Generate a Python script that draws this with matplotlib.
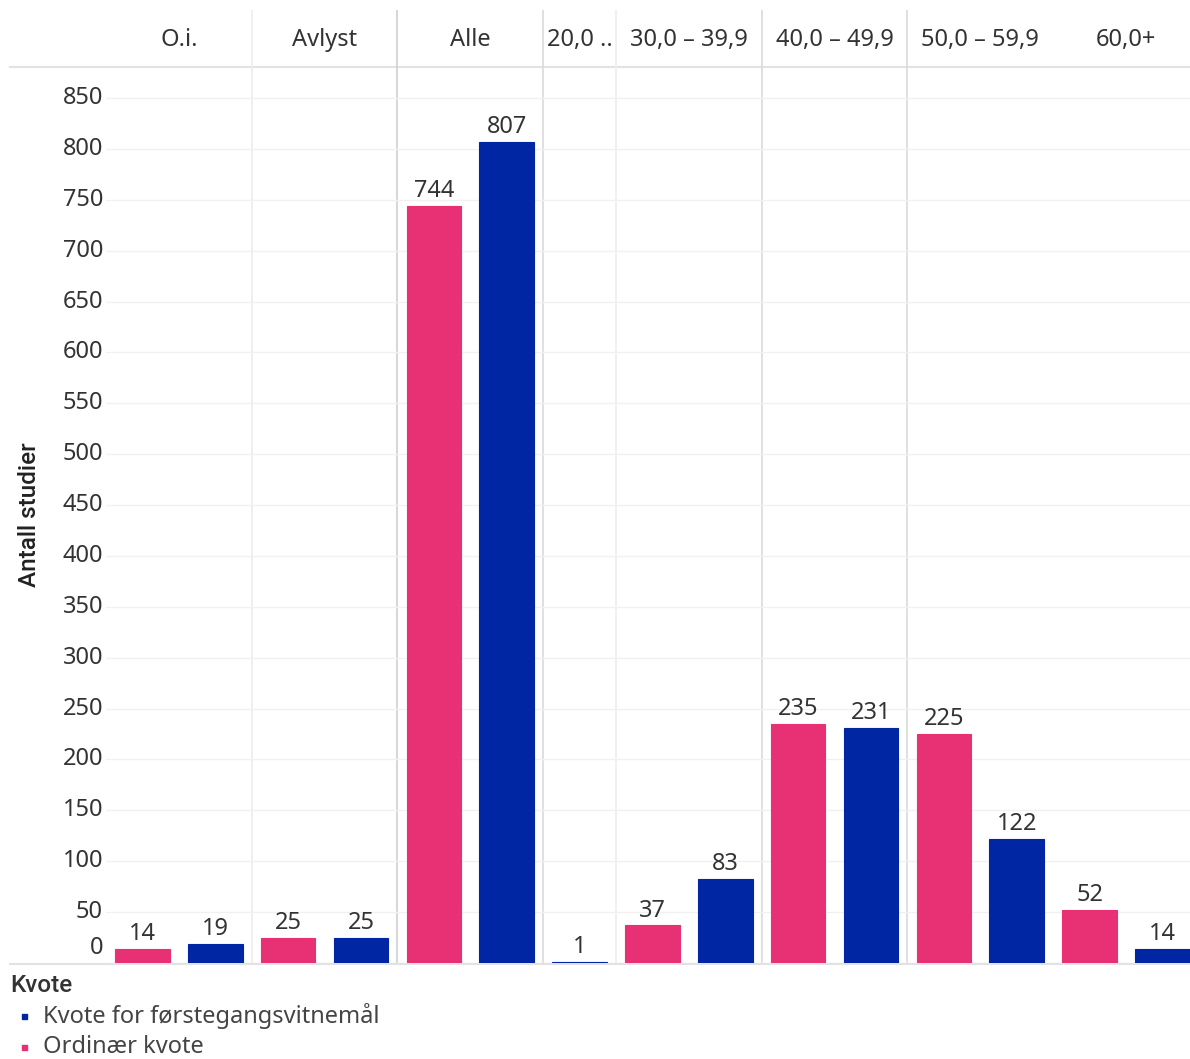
import matplotlib
matplotlib.use('Agg')
import matplotlib.pyplot as plt
from matplotlib.lines import Line2D
from matplotlib.patches import Rectangle

plt.rcParams['font.family'] = ['Noto Sans', 'DejaVu Sans']

# data
groups = ['O.i.', 'Avlyst', 'Alle', '20,0 ..', '30,0 – 39,9', '40,0 – 49,9', '50,0 – 59,9', '60,0+']
ordinaer = [14, 25, 744, None, 37, 235, 225, 52]
forstegang = [19, 25, 807, 1, 83, 231, 122, 14]
yticks = [0, 50, 100, 150, 200, 250, 300, 350, 400, 450, 500, 550, 600, 650, 700, 750, 800, 850]

pink = '#E83074'
blue = '#0026A3'
txt = '#333333'
fs = 17
bold_font = ['Roboto', 'DejaVu Sans']

W, H = 1190, 1059
fig = plt.figure(figsize=(W / 100, H / 100), dpi=100)

# plot area in pixels
x0, x1, ytop, ybot = 106, 1190, 67, 963
slot = 72.86
ax = fig.add_axes([x0 / W, (H - ybot) / H, (x1 - x0) / W, (ybot - ytop) / H])
hax = fig.add_axes([x0 / W, (H - ytop) / H, (x1 - x0) / W, (ytop - 10) / H], sharex=ax)
ax.patch.set_visible(False)

# build the bar list
xs, vals, cols = [], [], []
centers = []
bounds = []
pos = 0
for g, o, f in zip(groups, ordinaer, forstegang):
    start = pos
    for v, c in ((o, pink), (f, blue)):
        if v is None:
            continue
        xs.append(pos)
        vals.append(v)
        cols.append(c)
        pos += 1
    centers.append((start + pos - 1) / 2)
    bounds.append(pos - 0.5)

ax.bar(xs, vals, width=0.75, color=cols, edgecolor=cols, lw=0.8, zorder=3)
for x, v in zip(xs, vals):
    ax.annotate(str(v), (x, v), xytext=(0, 2), textcoords='offset points',
                ha='center', va='bottom', fontsize=fs, color=txt, zorder=4)

ax.set_xlim(-0.5, -0.5 + (x1 - x0) / slot)
ax.set_ylim(0, (ybot - ytop) / ((ybot - 98) / 850))
ax.set_yticks(yticks)
ax.set_yticklabels([])
ax.tick_params(length=0)
ax.set_xticks([])
ax.grid(axis='y', color='#f1f1f1', lw=1, zorder=0)
for s in ax.spines.values():
    s.set_visible(False)

# y tick labels, the 0 label sits a bit higher like in the original
for t in yticks:
    dy = 15 if t == 0 else 0
    ax.annotate(str(t), (0, t), xycoords=('axes fraction', 'data'), xytext=(-3, dy),
                textcoords='offset pixels', ha='right', va='center', fontsize=fs, color=txt)

fig.text(30 / W, 1 - 515 / H, 'Antall studier', rotation=90, ha='center', va='center',
         fontsize=fs + 0.5, family=bold_font, fontweight='medium', color='#222222')

# column separators
sep_cols = {1.5: '#ececec', 3.5: '#cfcfcf', 5.5: '#dadada', 6.5: '#ededed', 8.5: '#dadada', 10.5: '#dadada'}
for b in bounds[:-1]:
    if b in sep_cols:
        ax.axvline(b, color=sep_cols[b], lw=1.2, zorder=1)
        hax.axvline(b, color=sep_cols[b], lw=1.2, zorder=1)

# header
hax.set_ylim(0, 1)
hax.axis('off')
for c, g in zip(centers, groups):
    hax.text(c, 0.47, g, ha='center', va='center', fontsize=fs, color=txt)

# horizontal rules, kept under the bars
fig.add_artist(Line2D([10 / W, 1], [1 - ytop / H] * 2, color='#e2e2e2', lw=1.5, zorder=-1))
fig.add_artist(Line2D([10 / W, 1], [1 - (ybot + 1) / H] * 2, color='#e2e2e2', lw=1.5, zorder=-1))

# legend
fig.text(10 / W, 1 - 985 / H, 'Kvote', ha='left', va='center', fontsize=fs + 0.5,
         family=bold_font, fontweight='medium', color='#333333')
for i, (lab, c) in enumerate([('Kvote for førstegangsvitnemål', blue), ('Ordinær kvote', pink)]):
    yy = 1016 + i * 31
    fig.add_artist(Rectangle((22 / W, 1 - (yy + 3) / H), 5 / W, 5 / H, color=c))
    fig.text(43 / W, 1 - yy / H, lab, ha='left', va='center', fontsize=fs, color='#444444')

fig.savefig('out.png', dpi=100, facecolor='white')
